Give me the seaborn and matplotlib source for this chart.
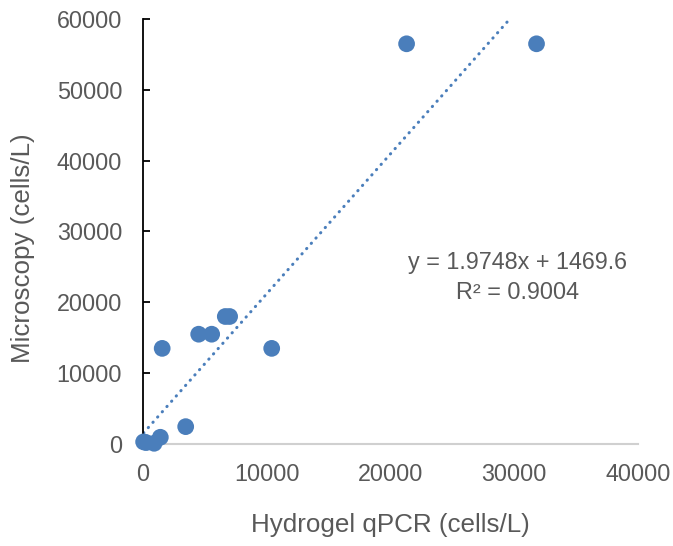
import numpy as np
import matplotlib
matplotlib.use("Agg")
import matplotlib.pyplot as plt
import seaborn as sns

# values
qpcr = [31800, 21300, 6650, 7000, 4500, 5550, 1550, 10400, 3450, 1400, 250, 900, 50]
microscopy = [56500, 56500, 18000, 18000, 15500, 15500, 13500, 13500, 2450, 950, 200, 100, 300]
slope = 1.9748
intercept = 1469.6
r_squared = 0.9004

x_ticks = [0, 10000, 20000, 30000, 40000]
y_ticks = [0, 10000, 20000, 30000, 40000, 50000, 60000]

blue = "#4A7EBB"
grey_text = "#595959"

sns.set_style("white")
plt.rcParams["font.family"] = ["Liberation Sans", "DejaVu Sans"]

fig = plt.figure(figsize=(6.73, 5.46), dpi=100)
ax = fig.add_axes([143 / 673, 1 - 444 / 546, 495 / 673, 425 / 546])

sns.scatterplot(x=qpcr, y=microscopy, ax=ax, color=blue, s=145,
                edgecolor="none", zorder=3, clip_on=False)

# linear trendline (Excel style dotted)
tx = np.array([min(qpcr), max(qpcr)])
ax.plot(tx, slope * tx + intercept, color=blue, linestyle=(0, (0.1, 2.2)),
        linewidth=2.2, dash_capstyle="round", zorder=2)

ax.text(30300, 25600, f"y = {slope}x + {intercept}", ha="center", va="center",
        fontsize=16.8, color=grey_text)
ax.text(30300, 21400, f"R² = {r_squared}", ha="center", va="center",
        fontsize=16.8, color=grey_text)

ax.set_xlim(0, 40000)
ax.set_ylim(0, 60000)
ax.set_xticks(x_ticks)
ax.set_yticks(y_ticks)

for side in ["top", "right"]:
    ax.spines[side].set_visible(False)
ax.spines["left"].set_color("black")
ax.spines["left"].set_linewidth(1.3)
ax.spines["bottom"].set_color("#D0D0D0")
ax.spines["bottom"].set_linewidth(1.5)

ax.tick_params(axis="y", direction="in", length=5, width=1.3, color="black",
               labelsize=16.8, labelcolor=grey_text, pad=15, left=True)
ax.tick_params(axis="x", length=0, labelsize=16.8, labelcolor=grey_text, pad=14)

ax.set_xlabel("Hydrogel qPCR (cells/L)", fontsize=18.7, color=grey_text, labelpad=19)
ax.set_ylabel("Microscopy (cells/L)", fontsize=18.7, color=grey_text)
ax.yaxis.set_label_coords(-0.218, 0.461)

fig.savefig("out.png", dpi=100)
